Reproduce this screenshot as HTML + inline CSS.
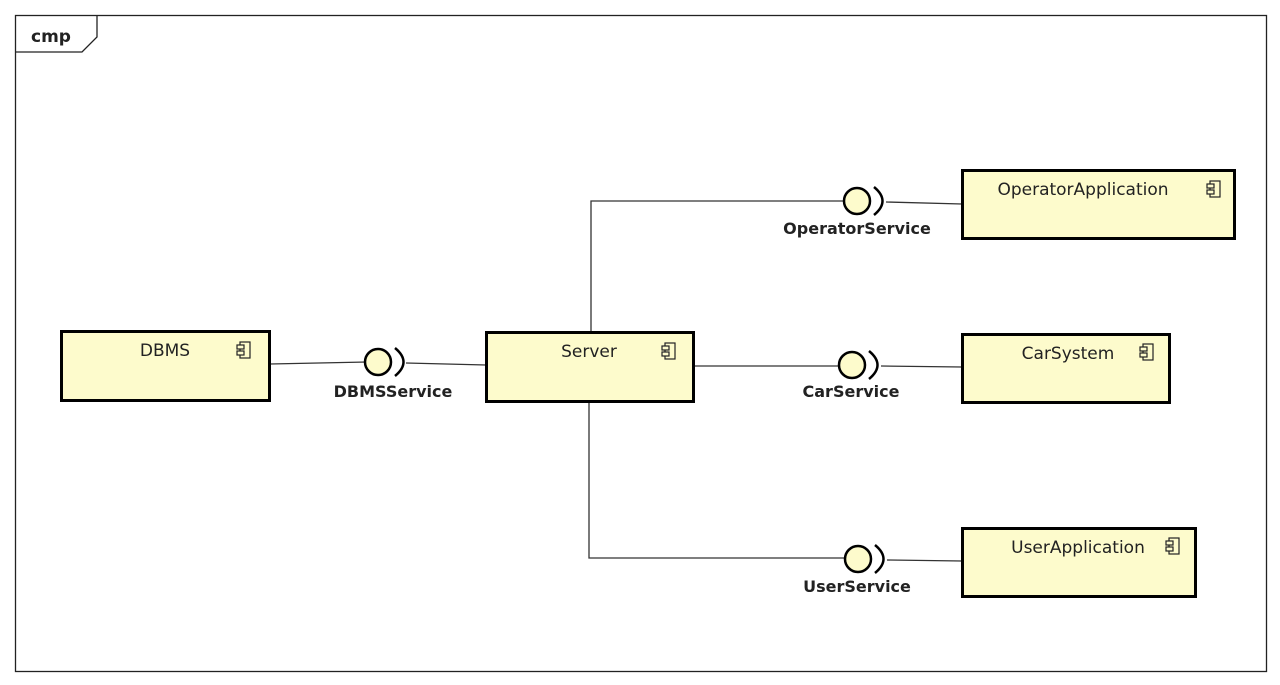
<!DOCTYPE html>
<html><head><meta charset="utf-8"><style>
html,body{margin:0;padding:0;background:#fff;}
svg{display:block;}
text{font-family:"DejaVu Sans","Liberation Sans",sans-serif;}
</style></head><body>
<svg width="1280" height="685" viewBox="0 0 1280 685" xmlns="http://www.w3.org/2000/svg">
<defs>
<g id="ic">
<rect x="3" y="0" width="10" height="16" fill="none" stroke="#222" stroke-width="1.2"/>
<rect x="0" y="3" width="7" height="4" fill="#fdfbcc" stroke="#222" stroke-width="1.2"/>
<rect x="0" y="9" width="7" height="4" fill="#fdfbcc" stroke="#222" stroke-width="1.2"/>
</g>
</defs>
<rect x="15.5" y="15.5" width="1251" height="656" fill="#fff" stroke="#222" stroke-width="1.3"/>
<path d="M15.5 52 H82 L97 37 V15.5" fill="none" stroke="#222" stroke-width="1.3"/>
<text x="31" y="42" font-size="17" font-weight="bold" fill="#222">cmp</text>

<g stroke="#333" stroke-width="1.3" fill="none">
<path d="M270 364 L367 362"/>
<path d="M406 363 L486 365"/>
<path d="M694 366 L839 366"/>
<path d="M881 366 L962 367"/>
<path d="M591 332 V201 H844"/>
<path d="M886 202 L962 204"/>
<path d="M589 402 V558 H845"/>
<path d="M887 560 L962 561"/>
</g>

<g fill="#fdfbcc" stroke="#000" stroke-width="3">
<rect x="61.5" y="331.5" width="208" height="69"/>
<rect x="486.5" y="332.5" width="207" height="69"/>
<rect x="962.5" y="170.5" width="272" height="68"/>
<rect x="962.5" y="334.5" width="207" height="68"/>
<rect x="962.5" y="528.5" width="233" height="68"/>
</g>
<g font-size="17" fill="#222" text-anchor="middle">
<text x="165" y="356">DBMS</text>
<text x="589" y="357">Server</text>
<text x="1083" y="195">OperatorApplication</text>
<text x="1068" y="359">CarSystem</text>
<text x="1078" y="553">UserApplication</text>
</g>
<use href="#ic" x="237" y="342"/>
<use href="#ic" x="662" y="343"/>
<use href="#ic" x="1207" y="181"/>
<use href="#ic" x="1140" y="344"/>
<use href="#ic" x="1166" y="538"/>

<g fill="#fdfbcc" stroke="#000" stroke-width="2.5">
<circle cx="378" cy="362" r="13"/>
<circle cx="857" cy="201" r="13"/>
<circle cx="852" cy="365" r="13"/>
<circle cx="858" cy="559" r="13"/>
</g>
<g fill="none" stroke="#000" stroke-width="2.5">
<path d="M395 348 Q412 362 395 376"/>
<path d="M874 187 Q891 201 874 215"/>
<path d="M869 351 Q886 365 869 379"/>
<path d="M875 545 Q892 559 875 573"/>
</g>
<g font-size="16" font-weight="bold" fill="#222" text-anchor="middle">
<text x="393" y="397">DBMSService</text>
<text x="857" y="234">OperatorService</text>
<text x="851" y="397">CarService</text>
<text x="857" y="592">UserService</text>
</g>
</svg>
</body></html>
